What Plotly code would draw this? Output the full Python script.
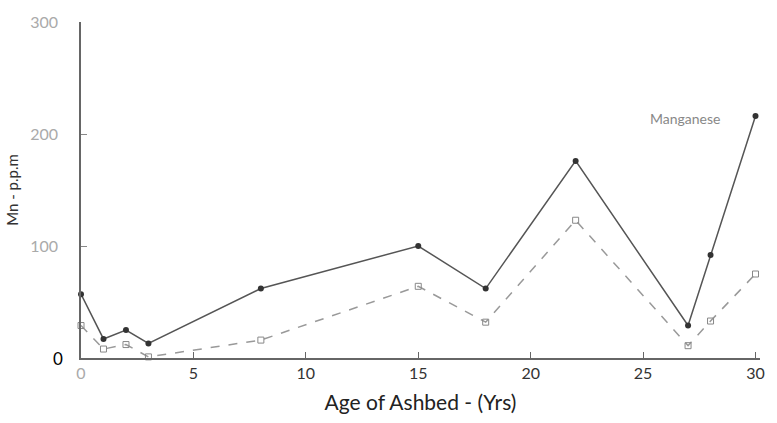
import plotly.graph_objects as go

age_solid = [0, 1, 2, 3, 8, 15, 18, 22, 27, 28, 30]
mn_solid = [57, 17, 25, 13, 62, 100, 62, 176, 29, 92, 216]

age_dash = [0, 1, 2, 3, 8, 15, 18, 22, 27, 28, 30]
mn_dash = [29, 8, 12, 1, 16, 64, 32, 123, 11, 33, 75]

x_ticks = [0, 5, 10, 15, 20, 25, 30]
y_ticks = [100, 200, 300]

font_family = "Lato, 'DejaVu Sans', sans-serif"

fig = go.Figure()
fig.add_trace(go.Scatter(
    x=age_solid, y=mn_solid, mode="lines+markers",
    line=dict(color="#555555", width=1.5),
    marker=dict(symbol="circle", size=6, color="#333333"),
    showlegend=False, cliponaxis=False))
fig.add_trace(go.Scatter(
    x=age_dash, y=mn_dash, mode="lines+markers",
    line=dict(color="#999999", width=1.5, dash="dash"),
    marker=dict(symbol="square-open", size=6, color="#888888"),
    showlegend=False, cliponaxis=False))

x_text = ["<span style='color:#aaaaaa'>0</span>"] + [str(v) for v in x_ticks[1:]]

fig.update_layout(
    width=777, height=423,
    margin=dict(l=80, r=12, t=17, b=65),
    paper_bgcolor="white", plot_bgcolor="white",
    font=dict(family=font_family, color="#333333"),
    xaxis=dict(range=[0, 30.2], tickvals=x_ticks, ticktext=x_text,
               ticks="inside", ticklen=6, tickcolor="#666666",
               showline=True, linecolor="#666666", linewidth=1.5,
               showgrid=False, zeroline=False,
               tickfont=dict(size=16, color="#333333"),
               title=dict(text="Age of Ashbed - (Yrs)",
                          font=dict(size=21, color="#222222"), standoff=14)),
    yaxis=dict(range=[0, 300], tickvals=y_ticks,
               ticktext=[str(v) for v in y_ticks],
               ticks="inside", ticklen=6, tickcolor="#888888",
               showline=True, linecolor="#666666", linewidth=1.5,
               showgrid=False, zeroline=False, ticklabelstandoff=18,
               tickfont=dict(size=16, color="#aaaaaa"),
               title=dict(text="Mn - p.p.m",
                          font=dict(size=15, color="#333333"), standoff=8)),
    annotations=[
        dict(x=0, y=0, xref="x", yref="y", text="0", showarrow=False,
             xanchor="right", xshift=-16, font=dict(size=17, color="#000000")),
        dict(x=28.5, y=214, xref="x", yref="y", text="Manganese", showarrow=False,
             xanchor="right", font=dict(size=14, color="#888888")),
    ],
)

fig.write_html("out.html")
